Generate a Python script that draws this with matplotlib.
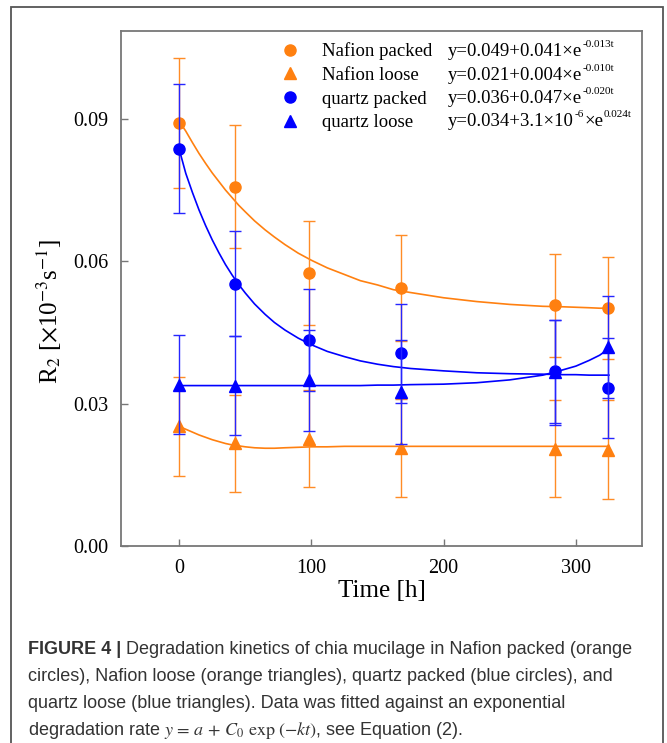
import matplotlib.pyplot as plt
from matplotlib.lines import Line2D
from matplotlib.patches import Rectangle

plt.rcParams['font.family'] = ['Liberation Serif', 'DejaVu Serif']
plt.rcParams['mathtext.fontset'] = 'stix'

orange = '#FF8010'
blue = '#0000FF'

# measured points
t = [0, 42, 98, 168, 284, 324]
nafion_packed = [0.0892, 0.0757, 0.0575, 0.0544, 0.0507, 0.0502]
nafion_packed_err = [0.0137, 0.0129, 0.0110, 0.0112, 0.0108, 0.0107]
nafion_loose = [0.0252, 0.0216, 0.0226, 0.0207, 0.0205, 0.0203]
nafion_loose_err = [0.0105, 0.0103, 0.0102, 0.0103, 0.0102, 0.0104]
quartz_packed = [0.0837, 0.0553, 0.0434, 0.0406, 0.0368, 0.0333]
quartz_packed_err = [0.0136, 0.0110, 0.0108, 0.0104, 0.0109, 0.0106]
quartz_loose = [0.0340, 0.0338, 0.0349, 0.0324, 0.0366, 0.0419]
quartz_loose_err = [0.0105, 0.0105, 0.0106, 0.0110, 0.0110, 0.0108]

# fitted curves
t_fit = [0, 5, 10, 15, 20, 25, 30, 35, 40, 45, 50, 57, 65, 72, 80, 90, 100, 112, 125, 137,
         150, 162, 175, 200, 225, 250, 275, 290, 300, 310, 318, 325]
fit_nafion_packed = [0.0895, 0.0874, 0.0850, 0.0827, 0.0806, 0.0786, 0.0768, 0.0750, 0.0734, 0.0718,
                     0.0704, 0.0685, 0.0666, 0.0651, 0.0635, 0.0617, 0.0602, 0.0586, 0.0572, 0.0559,
                     0.0550, 0.0540, 0.0534, 0.0523, 0.0515, 0.0509, 0.0505, 0.0504, 0.0503, 0.0502,
                     0.0501, 0.0501]
fit_nafion_loose = [0.0252, 0.0246, 0.0240, 0.0234, 0.0229, 0.0224, 0.0220, 0.0216, 0.0213, 0.0211,
                    0.0209, 0.0207, 0.0206, 0.0206, 0.0207, 0.0208, 0.0209, 0.0209, 0.0210, 0.0210,
                    0.0210, 0.0210, 0.0210, 0.0210, 0.0210, 0.0210, 0.0210, 0.0210, 0.0210, 0.0210,
                    0.0210, 0.0210]
fit_quartz_packed = [0.0836, 0.0785, 0.0745, 0.0708, 0.0675, 0.0645, 0.0618, 0.0593, 0.0571, 0.0551,
                     0.0533, 0.0510, 0.0488, 0.0471, 0.0455, 0.0438, 0.0424, 0.0410, 0.0399, 0.0390,
                     0.0383, 0.0378, 0.0374, 0.0369, 0.0365, 0.0363, 0.0362, 0.0361, 0.0361, 0.0360,
                     0.0360, 0.0360]
fit_quartz_loose = [0.0338, 0.0338, 0.0338, 0.0338, 0.0338, 0.0338, 0.0338, 0.0338, 0.0338, 0.0338,
                    0.0338, 0.0338, 0.0338, 0.0338, 0.0338, 0.0338, 0.0338, 0.0338, 0.0338, 0.0338,
                    0.0339, 0.0339, 0.0340, 0.0341, 0.0344, 0.0350, 0.0360, 0.0371, 0.0379, 0.0391,
                    0.0402, 0.0416]

labels = ['Nafion packed', 'Nafion loose', 'quartz packed', 'quartz loose']
# each equation: alternating normal / superscript pieces
equations = [['y=0.049+0.041\u00d7e', '-0.013t'],
             ['y=0.021+0.004\u00d7e', '-0.010t'],
             ['y=0.036+0.047\u00d7e', '-0.020t'],
             ['y=0.034+3.1\u00d710', '-6', '\u00d7e', '0.024t']]

series = [
    (nafion_packed, nafion_packed_err, fit_nafion_packed, orange, '#FF8C26', 'o'),
    (nafion_loose, nafion_loose_err, fit_nafion_loose, orange, '#FF8C26', '^'),
    (quartz_packed, quartz_packed_err, fit_quartz_packed, blue, '#2626FF', 'o'),
    (quartz_loose, quartz_loose_err, fit_quartz_loose, blue, '#2626FF', '^'),
]

fig = plt.figure(figsize=(6.67, 7.43), dpi=100)
ax = fig.add_axes([0.1814, 0.2651, 0.7811, 0.6932])

handles = []
for i, (y, e, f, c, ec, m) in enumerate(series):
    ax.plot(t_fit, f, color=c, lw=1.2, zorder=2 + i)
    ax.errorbar(t, y, yerr=e, fmt=m, color=c, ecolor=ec, ms=8, capsize=4.5,
                elinewidth=1.0, capthick=1.0, zorder=2 + i)
    handles.append(Line2D([], [], marker=m, color=c, ls='none', ms=8))

ax.set_xlim(-44, 350)
ax.set_ylim(0, 0.1085)
ax.set_xticks([0, 100, 200, 300])
ax.set_yticks([0.0, 0.03, 0.06, 0.09])
ax.set_yticklabels(['0.00', '0.03', '0.06', '0.09'])
ax.tick_params(direction='in', length=5, width=1, color='#777777', labelsize=14.5)
ax.tick_params(axis='y', pad=9)
ax.tick_params(axis='x', pad=9)
for s in ax.spines.values():
    s.set_color('#777777')
    s.set_linewidth(1.3)

ax.set_xlabel('Time [h]', fontsize=18, labelpad=2)
ax.set_ylabel(r'R$_{\mathrm{2}}$ [$\times$10$^{\mathrm{-3}}$s$^{\mathrm{-1}}$]', fontsize=18)
ax.yaxis.set_label_coords(-0.109, 0.455)

ax.legend(handles, labels, loc='upper left', bbox_to_anchor=(0.292, 0.992), frameon=False,
          fontsize=13.5, handlelength=1.0, handletextpad=1.2, labelspacing=0.344, borderaxespad=0)

eq_rows = [0.9515, 0.9049, 0.8602, 0.8155]
for parts, yy in zip(equations, eq_rows):
    prev = ax.text(0.628, yy, parts[0], transform=ax.transAxes, fontsize=13.5, va='baseline')
    for j, p in enumerate(parts[1:], start=1):
        if j % 2:
            prev = ax.annotate(p, xy=(1, yy), xycoords=(prev, 'axes fraction'),
                               xytext=(0.3, 6.5), textcoords='offset points', fontsize=8, va='baseline')
        else:
            prev = ax.annotate(p, xy=(1, yy), xycoords=(prev, 'axes fraction'),
                               xytext=(0.3, 0), textcoords='offset points', fontsize=13.5, va='baseline')

# outer frame
fig.patches.append(Rectangle((11 / 667, -0.01), 652 / 667, 1.01 - 7 / 743, transform=fig.transFigure,
                             fill=False, edgecolor='#555555', lw=1.3))

# caption
cap_kw = dict(fontsize=13, color='#333333', family='Liberation Sans', va='baseline')
lines = ['Degradation kinetics of chia mucilage in Nafion packed (orange',
         'circles), Nafion loose (orange triangles), quartz packed (blue circles), and',
         'quartz loose (blue triangles). Data was fitted against an exponential',
         r'degradation rate $y\, =\, a\, +\, C_0\ \exp\,(-kt)$, see Equation (2).']
x0 = 28 / 667
ys = [1 - 654 / 743, 1 - 681 / 743, 1 - 708 / 743, 1 - 735 / 743]
bold = fig.text(x0, ys[0], 'FIGURE 4 | ', fontweight='bold', **cap_kw)
ax.annotate(lines[0], xy=(1, ys[0]), xycoords=(bold, 'figure fraction'), **cap_kw)
for yy, ln in zip(ys[1:], lines[1:]):
    fig.text(x0, yy, ln, math_fontfamily='stix', **cap_kw)

fig.savefig('out.png', dpi=100)
